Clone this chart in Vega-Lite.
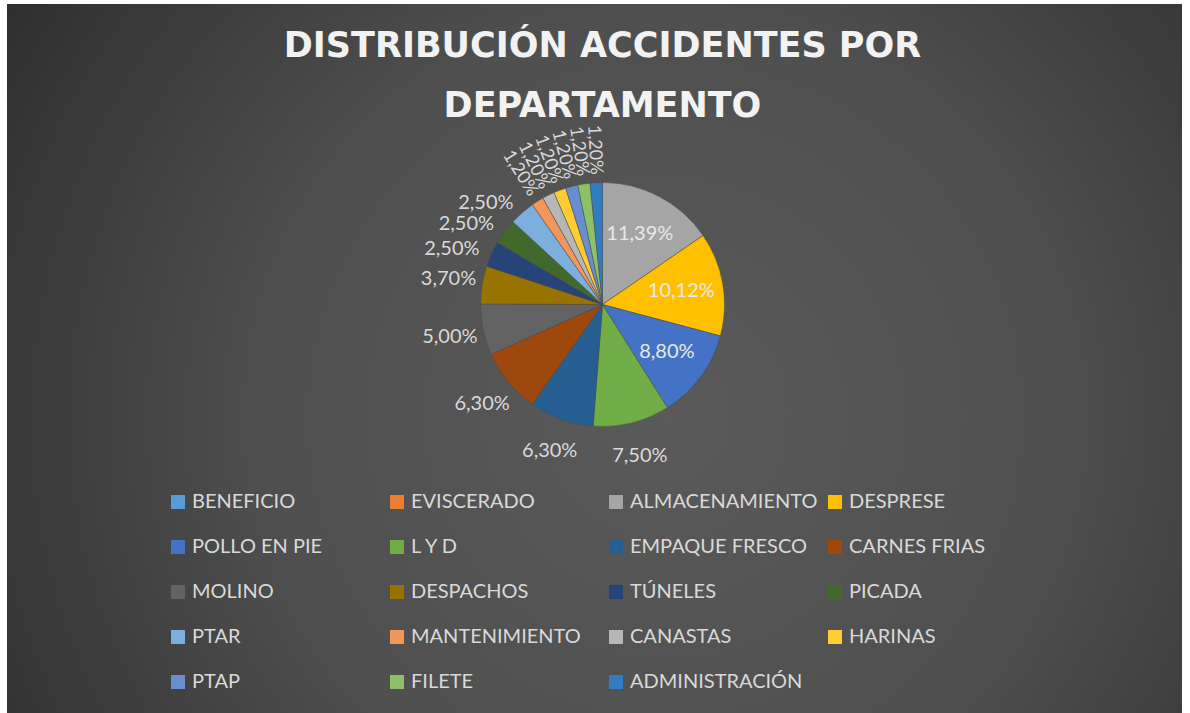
{
  "$schema": "https://vega.github.io/schema/vega-lite/v6.json",
  "width": 1175,
  "height": 709,
  "autosize": {"type": "none"},
  "padding": {"left": 7, "top": 4, "right": 8, "bottom": 0},
  "background": "#ffffff",
  "config": {
    "view": {"stroke": null},
    "locale": {"number": {"decimal": ",", "thousands": ".", "grouping": [3], "currency": ["", " €"]}},
    "font": "Lato"
  },
  "title": {
    "text": ["DISTRIBUCIÓN ACCIDENTES POR", "DEPARTAMENTO"],
    "orient": "top",
    "anchor": "middle",
    "frame": "group",
    "offset": -120,
    "dx": 8,
    "font": "DejaVu Sans",
    "fontSize": 35,
    "fontWeight": "bold",
    "color": "#F2F2F2",
    "lineHeight": 60
  },
  "datasets": {
    "accidentes": [
      {"dept": "BENEFICIO", "value": 0, "ord": 1},
      {"dept": "EVISCERADO", "value": 0, "ord": 2},
      {"dept": "ALMACENAMIENTO", "value": 0.1139, "ord": 3},
      {"dept": "DESPRESE", "value": 0.1012, "ord": 4},
      {"dept": "POLLO EN PIE", "value": 0.088, "ord": 5},
      {"dept": "L Y D", "value": 0.075, "ord": 6},
      {"dept": "EMPAQUE FRESCO", "value": 0.063, "ord": 7},
      {"dept": "CARNES FRIAS", "value": 0.063, "ord": 8},
      {"dept": "MOLINO", "value": 0.05, "ord": 9},
      {"dept": "DESPACHOS", "value": 0.037, "ord": 10},
      {"dept": "TÚNELES", "value": 0.025, "ord": 11},
      {"dept": "PICADA", "value": 0.025, "ord": 12},
      {"dept": "PTAR", "value": 0.025, "ord": 13},
      {"dept": "MANTENIMIENTO", "value": 0.012, "ord": 14},
      {"dept": "CANASTAS", "value": 0.012, "ord": 15},
      {"dept": "HARINAS", "value": 0.012, "ord": 16},
      {"dept": "PTAP", "value": 0.012, "ord": 17},
      {"dept": "FILETE", "value": 0.012, "ord": 18},
      {"dept": "ADMINISTRACIÓN", "value": 0.012, "ord": 19}
    ]
  },
  "layer": [
    {
      "data": {"values": [{"fondo": 1}]},
      "mark": {
        "type": "rect",
        "fill": {
          "gradient": "radial",
          "x1": 0.56, "y1": 0.55, "r1": 0,
          "x2": 0.56, "y2": 0.55, "r2": 0.75,
          "stops": [
            {"offset": 0, "color": "#5a5a5a"},
            {"offset": 0.45, "color": "#4f4f4f"},
            {"offset": 1, "color": "#262626"}
          ]
        }
      },
      "encoding": {}
    },
    {
      "data": {"name": "accidentes"},
      "encoding": {
        "theta": {"field": "value", "type": "quantitative", "stack": true},
        "order": {"field": "ord", "type": "quantitative"},
        "detail": {"field": "dept", "type": "nominal"}
      },
      "layer": [
        {
          "mark": {"type": "arc", "outerRadius": 122, "xOffset": 8, "yOffset": -54, "stroke": "#4a4a4a", "strokeWidth": 0.5},
          "encoding": {
            "color": {
              "field": "dept",
              "type": "nominal",
              "scale": {
                "domain": ["BENEFICIO", "EVISCERADO", "ALMACENAMIENTO", "DESPRESE", "POLLO EN PIE", "L Y D", "EMPAQUE FRESCO", "CARNES FRIAS", "MOLINO", "DESPACHOS", "TÚNELES", "PICADA", "PTAR", "MANTENIMIENTO", "CANASTAS", "HARINAS", "PTAP", "FILETE", "ADMINISTRACIÓN"],
                "range": ["#5B9BD5", "#ED7D31", "#A5A5A5", "#FFC000", "#4472C4", "#70AD47", "#255E91", "#9E480E", "#636363", "#997300", "#264478", "#43682B", "#7CAFDD", "#F1975A", "#B7B7B7", "#FFCD33", "#698ED0", "#8CC168", "#327DC2"]
              },
              "legend": {
                "orient": "none",
                "legendX": 161,
                "legendY": 488,
                "direction": "horizontal",
                "columns": 4,
                "title": null,
                "padding": 0,
                "symbolType": "square",
                "symbolSize": 196,
                "symbolStrokeWidth": 0,
                "labelFont": "Lato",
                "labelFontSize": 20,
                "labelColor": "#D9D9D9",
                "labelOffset": 4,
                "labelLimit": 400,
                "gridAlign": "all",
                "columnPadding": 7,
                "rowPadding": 25
              }
            }
          }
        },
        {
          "mark": {"type": "text", "radius": 80, "xOffset": 8, "yOffset": -54, "font": "Lato", "fontSize": 20, "baseline": "middle", "align": "center"},
          "encoding": {
            "color": {"value": "#E8E8E8"},
            "text": {"condition": {"test": "datum.value > 0.08", "field": "value", "type": "quantitative", "format": ".2%"}, "value": ""}
          }
        },
        {
          "mark": {"type": "text", "radius": 156, "xOffset": 8, "yOffset": -54, "font": "Lato", "fontSize": 20, "baseline": "middle", "align": "center"},
          "encoding": {
            "color": {"value": "#D9D9D9"},
            "text": {"condition": {"test": "datum.value > 0.03 && datum.value < 0.08", "field": "value", "type": "quantitative", "format": ".2%"}, "value": ""}
          }
        },
        {
          "mark": {"type": "text", "radius": 135, "xOffset": 8, "yOffset": -54, "font": "Lato", "fontSize": 20, "baseline": "middle", "align": "right"},
          "encoding": {
            "color": {"value": "#D9D9D9"},
            "text": {"condition": {"test": "datum.value > 0.02 && datum.value < 0.03", "field": "value", "type": "quantitative", "format": ".2%"}, "value": ""}
          }
        },
        {
          "mark": {"type": "text", "radius": 130, "xOffset": 8, "yOffset": -54, "font": "Lato", "fontSize": 18, "baseline": "middle", "align": "right", "angle": {"expr": "scale('theta', (datum.value_start + datum.value_end) / 2) * 180 / PI + 90"}},
          "encoding": {
            "color": {"value": "#D9D9D9"},
            "text": {"condition": {"test": "datum.value > 0 && datum.value < 0.02", "field": "value", "type": "quantitative", "format": ".2%"}, "value": ""}
          }
        }
      ]
    }
  ]
}
